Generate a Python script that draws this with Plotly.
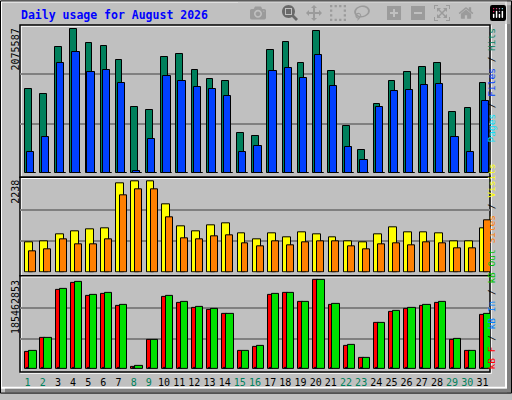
import plotly.graph_objects as go

days = list(range(1, 32))
weekend = [1, 2, 8, 9, 15, 16, 22, 23, 29, 30]

hits = [1182100, 1108820, 1768610, 2016040, 1823600, 1782360, 1589920, 930130, 888890, 1631160,
        1672390, 1452460, 1315010, 1287510, 559000, 517760, 1727380, 1837340, 1548680, 1988540,
        1438720, 668960, 325320, 971360, 1287510, 1424970, 1493700, 1548680, 861400, 916380, 1260020]
files = [297820, 504010, 1548680, 1699880, 1424970, 1452460, 1260020, 36660, 476520, 1356240,
         1287510, 1205040, 1177550, 1081330, 297820, 380300, 1438720, 1479950, 1328750, 1658650,
         1218790, 366550, 187860, 930130, 1150060, 1163800, 1232530, 1246280, 504010, 297820, 1012600]
pages = [6000, 6000, 6000, 6000, 6000, 6000, 6000, 3000, 6000, 6000,
         6000, 6000, 6000, 6000, 6000, 6000, 6000, 6000, 6000, 6000,
         6000, 6000, 3000, 6000, 6000, 6000, 6000, 6000, 6000, 6000, 6000]

visits = [704, 751, 916, 986, 1033, 1056, 2113, 2160, 2160, 1620, 1103, 986, 1127, 1174, 939, 798,
          939, 845, 962, 916, 845, 751, 704, 916, 1080, 962, 962, 939, 751, 728, 1056]
sites = [493, 540, 775, 657, 657, 775, 1831, 1972, 1972, 1315, 822, 775, 869, 892, 681, 610,
         751, 634, 704, 751, 728, 610, 540, 657, 681, 634, 704, 681, 563, 563, 1244]

kb_f = [33900000, 62490000, 161530000, 176160000, 149570000, 153560000, 127630000, 3990000, 58500000,
        147570000, 133610000, 123640000, 119650000, 111680000, 35900000, 45870000, 151560000, 155550000,
        135610000, 181470000, 129620000, 47860000, 21940000, 93730000, 115660000, 121650000, 127630000,
        133610000, 59830000, 35900000, 109680000]
kb_out = [35900000, 63820000, 163530000, 177490000, 151560000, 155550000, 129620000, 5980000, 58500000,
          149570000, 135610000, 125640000, 121650000, 111680000, 37890000, 47860000, 153560000, 155550000,
          135610000, 181470000, 131620000, 49860000, 21940000, 93730000, 117660000, 123640000, 129620000,
          135610000, 61830000, 37890000, 111680000]
kb_in = [1500000] * 31

max_hits = 2075587
max_visits = 2238
max_kb = 185462853

BG = "#C0C0C0"
W, H = 512, 400
L, T, B = 20, 25, 375


def px(x):
    return (x - L) / 470


def py(y):
    return (B - y) / (B - T)


fig = go.Figure()


def add_bar(vals, color, offset, width, axis):
    fig.add_trace(go.Bar(
        x=days, y=vals, offset=offset, width=width, yaxis=axis,
        marker=dict(color=color, line=dict(color="black", width=1)),
        hoverinfo="skip", showlegend=False))


add_bar(hits, "#00805C", -0.18, 0.44, "y")
add_bar(files, "#0040FF", -0.05, 0.48, "y")
add_bar(pages, "#00E0FF", 0.13, 0.42, "y")
add_bar(visits, "#FFFF00", -0.15, 0.52, "y2")
add_bar(sites, "#FF8000", 0.11, 0.46, "y2")
add_bar(kb_f, "#FF0000", -0.15, 0.32, "y3")
add_bar(kb_out, "#00E000", 0.11, 0.48, "y3")
add_bar(kb_in, "#0080FF", -0.02, 0.13, "y3")

grid = dict(showgrid=True, gridcolor="#808080", gridwidth=1.5, showticklabels=False,
            zeroline=False, showline=False, ticks="")

ticktext = []
for d in days:
    c = "#00805C" if d in weekend else "black"
    ticktext.append(f"<span style='color:{c}'>{d}</span>")

fig.update_layout(
    width=W, height=H, margin=dict(l=L, r=W - 490, t=T, b=H - B),
    paper_bgcolor=BG, plot_bgcolor=BG, barmode="overlay", bargap=0,
    font=dict(family="DejaVu Sans Mono", color="black"),
    xaxis=dict(range=[0.5, 31.5], tickvals=days, ticktext=ticktext, showgrid=False, anchor="y3",
               zeroline=False, tickfont=dict(size=10), ticks="", ticklabelstandoff=6),
    yaxis=dict(domain=[py(176), 1], range=[0, max_hits],
               tickvals=[max_hits / 3, 2 * max_hits / 3], **grid),
    yaxis2=dict(domain=[py(276.7), py(181)], range=[0, max_visits],
                tickvals=[max_visits / 3, 2 * max_visits / 3], **grid),
    yaxis3=dict(domain=[0, py(282.3)], range=[0, max_kb],
                tickvals=[max_kb / 3, 2 * max_kb / 3], **grid),
)

# frame and panel boxes
shapes = [
    dict(type="rect", x0=px(1), x1=px(506), y0=py(394), y1=py(1), line=dict(color="white", width=2)),
    dict(type="rect", x0=px(507), x1=px(511), y0=py(399), y1=py(5), fillcolor="#808080", line_width=0),
    dict(type="rect", x0=px(5), x1=px(511), y0=py(399), y1=py(395), fillcolor="#808080", line_width=0),
    dict(type="rect", x0=px(0.5), x1=px(511.5), y0=py(399.5), y1=py(0.5), line=dict(color="black", width=1)),
]
for top, bot in [(25, 180), (180, 280), (280, 378)]:
    shapes.append(dict(type="rect", x0=px(21), x1=px(491), y0=py(bot + 1), y1=py(top + 1),
                       line=dict(color="white", width=1.5)))
    shapes.append(dict(type="rect", x0=px(20), x1=px(490), y0=py(bot), y1=py(top),
                       line=dict(color="black", width=1.5)))
for s in shapes:
    s.update(xref="paper", yref="paper", layer="below")
fig.update_layout(shapes=shapes)

ann = [
    dict(text="<b>Daily usage for August 2026</b>", x=px(19), y=py(15), xanchor="left",
         yanchor="middle", font=dict(size=11.5, color="#0000FF")),
    dict(text=f"{max_hits}", x=px(8), y=py(27), yanchor="top", textangle=-90,
         font=dict(size=10)),
    dict(text=f"{max_visits}", x=px(8), y=py(181), yanchor="top", textangle=-90,
         font=dict(size=10)),
    dict(text=f"{max_kb}", x=px(8), y=py(283), yanchor="top", textangle=-90,
         font=dict(size=10)),
    dict(text="<span style='color:#00E0FF'>Pages</span> / <span style='color:#0040FF'>Files</span>"
              " / <span style='color:#00805C'>Hits</span>",
         x=px(499), y=py(27), yanchor="top", textangle=-90, font=dict(size=9.5, color="black")),
    dict(text="<span style='color:#FF0000'>kB F</span> / <span style='color:#0080FF'>kB In</span>"
              " / <span style='color:#00C000'>kB Out</span> <span style='color:#FF8000'>Sites</span>"
              " / <span style='color:#FFFF00'>Visits</span>",
         x=px(499), y=py(378), yanchor="bottom", textangle=-90, font=dict(size=9.5, color="black")),
]
for a in ann:
    a.update(xref="paper", yref="paper", showarrow=False)
fig.update_layout(annotations=ann)

fig.write_html("out.html", post_script="document.body.style.margin='0';")
